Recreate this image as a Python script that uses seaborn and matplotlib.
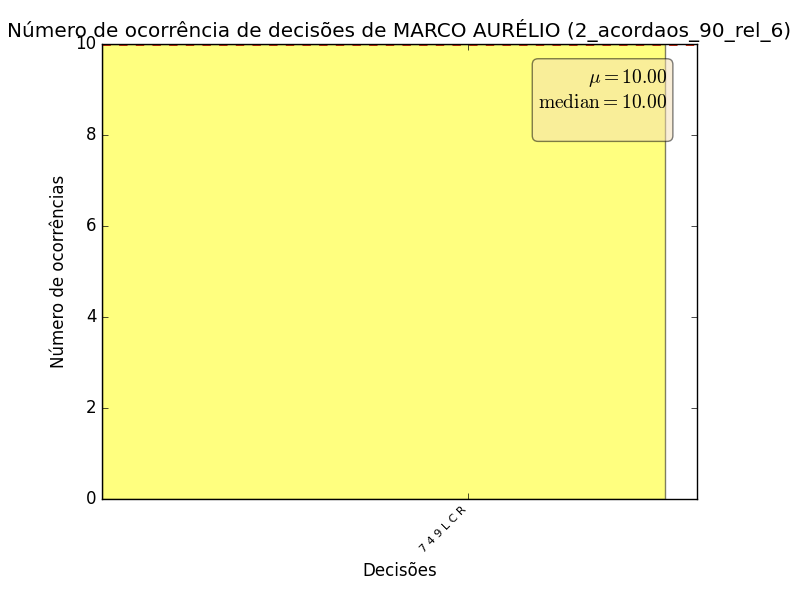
import matplotlib
matplotlib.use('Agg')
import matplotlib.pyplot as plt
import seaborn as sns
import numpy as np

# dados
decisoes = ['7 4 9 L C R']
ocorrencias = [10]
relator = 'MARCO AURÉLIO'
base = '2_acordaos_90_rel_6'

plt.style.use('classic')
plt.rcParams['mathtext.fontset'] = 'cm'

fig, ax = plt.subplots(figsize=(8, 6), dpi=100)
fig.subplots_adjust(left=0.1275, right=0.871, top=0.927, bottom=0.168)

largura = 0.8
sns.barplot(x=decisoes, y=ocorrencias, ax=ax, width=largura,
            color='yellow', alpha=0.5, edgecolor='black', linewidth=1, saturation=1)

media = np.mean(ocorrencias)
mediana = np.median(ocorrencias)
ax.axhline(media, color='r', linestyle='--', linewidth=2)
ax.axhline(mediana, color='g', linestyle='--', linewidth=1)

L = largura / 0.946
ax.set_xlim(-largura / 2, -largura / 2 + L)
ax.set_ylim(0, 10)
ax.set_yticks(np.arange(0, 11, 2))
ax.set_xticks([-largura / 2 + 0.615 * L])
ax.set_xticklabels(decisoes, rotation=45, fontsize=8, ha='right')
ax.tick_params(axis='y', labelsize=12)

ax.set_title('Número de ocorrência de decisões de %s (%s)' % (relator, base), fontsize=14.4)
ax.set_xlabel('Decisões', fontsize=12)
ax.set_ylabel('Número de ocorrências', fontsize=12)

texto = '$\\mu=%.2f$\n$\\mathrm{median}=%.2f$\n ' % (media, mediana)
props = dict(boxstyle='round', facecolor='wheat', alpha=0.5)
ax.text(0.95, 0.95, texto, transform=ax.transAxes, fontsize=14,
        va='top', ha='right', bbox=props, linespacing=1.3)

plt.savefig('out.png', dpi=100)
plt.close()
